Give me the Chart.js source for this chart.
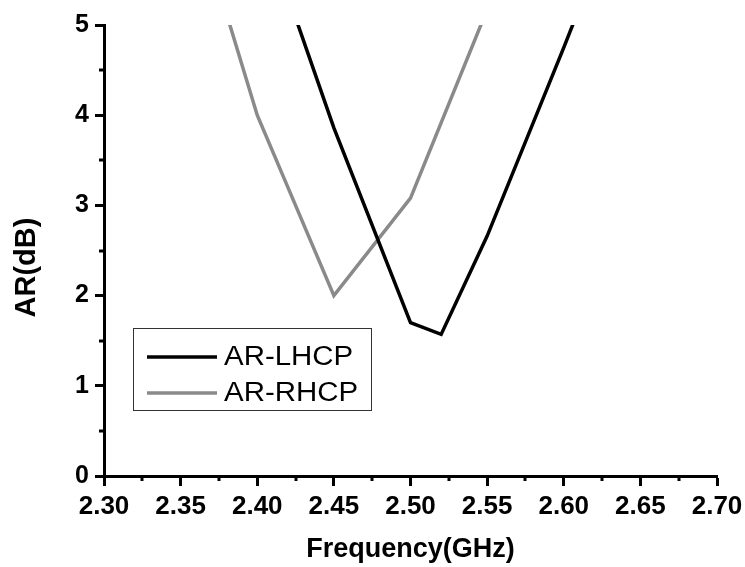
<!DOCTYPE html>
<html>
<head>
<meta charset="utf-8">
<script src="https://cdn.jsdelivr.net/npm/chart.js@4.4.1/dist/chart.umd.min.js"></script>
<style>
  html, body { margin: 0; padding: 0; background: #ffffff; }
  #c { display: block; }
</style>
</head>
<body>
<canvas id="c" width="745" height="567"></canvas>
<script>
// ---- Data ----
const freqLHCP = [2.40, 2.45, 2.50, 2.52, 2.55, 2.60, 2.65];
const arLHCP   = [6.3, 3.86, 1.70, 1.57, 2.66, 4.75, 6.9];
const freqRHCP = [2.35, 2.40, 2.45, 2.50, 2.55];
const arRHCP   = [6.8, 4.0, 2.0, 3.08, 5.17];
const seriesNames = ['AR-LHCP', 'AR-RHCP'];
const xTicksMajor = [2.30, 2.35, 2.40, 2.45, 2.50, 2.55, 2.60, 2.65, 2.70];
const yTicksMajor = [0, 1, 2, 3, 4, 5];
const xTitle = 'Frequency(GHz)';
const yTitle = 'AR(dB)';

const FONT = '"Liberation Sans", Arial, sans-serif';

function pts(xs, ys) { return xs.map((x, i) => ({ x: x, y: ys[i] })); }

// minor ticks halfway between major ticks
const minorTicks = {
  id: 'minorTicks',
  afterDraw(chart) {
    const ctx = chart.ctx;
    const xs = chart.scales.x, ys = chart.scales.y;
    ctx.save();
    ctx.strokeStyle = '#000';
    ctx.lineWidth = 3;
    for (let i = 0; i < xTicksMajor.length - 1; i++) {
      const v = (xTicksMajor[i] + xTicksMajor[i + 1]) / 2;
      const px = Math.round(xs.getPixelForValue(v));
      ctx.beginPath();
      ctx.moveTo(px, ys.bottom);
      ctx.lineTo(px, ys.bottom + 5);
      ctx.stroke();
    }
    for (let i = 0; i < yTicksMajor.length - 1; i++) {
      const v = (yTicksMajor[i] + yTicksMajor[i + 1]) / 2;
      const py = Math.round(ys.getPixelForValue(v));
      ctx.beginPath();
      ctx.moveTo(xs.left, py);
      ctx.lineTo(xs.left - 5, py);
      ctx.stroke();
    }
    ctx.restore();
  }
};

// y axis title, drawn slightly below the axis centre as in the reference
const yTitlePlugin = {
  id: 'yTitlePlugin',
  afterDraw(chart) {
    const ctx = chart.ctx;
    const area = chart.chartArea;
    ctx.save();
    ctx.translate(27, (area.top + area.bottom) / 2 + 17);
    ctx.rotate(-Math.PI / 2);
    ctx.fillStyle = '#000';
    ctx.font = 'bold 29px ' + FONT;
    ctx.textAlign = 'center';
    ctx.textBaseline = 'middle';
    ctx.fillText(yTitle, 0, 0);
    ctx.restore();
  }
};

// boxed legend inside the plot area
const boxLegend = {
  id: 'boxLegend',
  afterDraw(chart) {
    const ctx = chart.ctx;
    const area = chart.chartArea;
    const bx = area.left + 29, by = area.top + 303, bw = 238, bh = 82;
    ctx.save();
    ctx.fillStyle = '#ffffff';
    ctx.fillRect(bx, by, bw, bh);
    ctx.strokeStyle = '#333333';
    ctx.lineWidth = 1;
    ctx.strokeRect(bx + 0.5, by + 0.5, bw, bh);
    chart.data.datasets.forEach((ds, i) => {
      const cy = by + 29 + i * 36;
      ctx.strokeStyle = ds.borderColor;
      ctx.lineWidth = ds.borderWidth;
      ctx.beginPath();
      ctx.moveTo(bx + 14, cy);
      ctx.lineTo(bx + 84, cy);
      ctx.stroke();
      ctx.save();
      ctx.translate(bx + 91, cy + 1);
      ctx.scale(1.09, 1);
      ctx.fillStyle = '#000';
      ctx.font = '27px ' + FONT;
      ctx.textBaseline = 'middle';
      ctx.textAlign = 'left';
      ctx.fillText(ds.label, 0, 0);
      ctx.restore();
    });
    ctx.restore();
  }
};

const chart = new Chart(document.getElementById('c'), {
  type: 'line',
  data: {
    datasets: [
      {
        label: seriesNames[0],
        data: pts(freqLHCP, arLHCP),
        borderColor: '#000000',
        borderWidth: 3.5,
        pointRadius: 0,
        tension: 0,
        fill: false
      },
      {
        label: seriesNames[1],
        data: pts(freqRHCP, arRHCP),
        borderColor: '#8a8a8a',
        borderWidth: 3.5,
        pointRadius: 0,
        tension: 0,
        fill: false
      }
    ]
  },
  options: {
    responsive: false,
    animation: false,
    devicePixelRatio: 1,
    layout: { padding: { left: 0, right: 28, top: 25, bottom: 0 } },
    plugins: {
      legend: { display: false },
      tooltip: { enabled: false }
    },
    scales: {
      x: {
        type: 'linear',
        min: 2.30,
        max: 2.70,
        afterBuildTicks(scale) { scale.ticks = xTicksMajor.map(v => ({ value: v })); },
        afterFit(scale) { scale.height = 91; scale.paddingLeft = 0; scale.paddingRight = 0; },
        border: { display: true, color: '#000', width: 3 },
        grid: { drawOnChartArea: false, drawTicks: true, tickLength: 10, tickWidth: 3, tickColor: '#000' },
        ticks: {
          color: '#000',
          padding: 5,
          maxRotation: 0,
          font: { family: FONT, size: 26, weight: 'bold' },
          callback: v => Number(v).toFixed(2)
        },
        title: {
          display: true,
          text: xTitle,
          color: '#000',
          padding: { top: 0, bottom: 1 },
          font: { family: FONT, size: 27, weight: 'bold' }
        }
      },
      y: {
        type: 'linear',
        min: 0,
        max: 5,
        afterBuildTicks(scale) { scale.ticks = yTicksMajor.map(v => ({ value: v })); },
        afterFit(scale) { scale.width = 104; scale.paddingTop = 0; scale.paddingBottom = 0; },
        border: { display: true, color: '#000', width: 3 },
        grid: { drawOnChartArea: false, drawTicks: true, tickLength: 9, tickWidth: 3, tickColor: '#000' },
        ticks: {
          color: '#000',
          padding: 6,
          font: { family: FONT, size: 25, weight: 'bold' },
          callback: v => String(v)
        },
        title: { display: false }
      }
    }
  },
  plugins: [minorTicks, yTitlePlugin, boxLegend]
});
</script>
</body>
</html>
